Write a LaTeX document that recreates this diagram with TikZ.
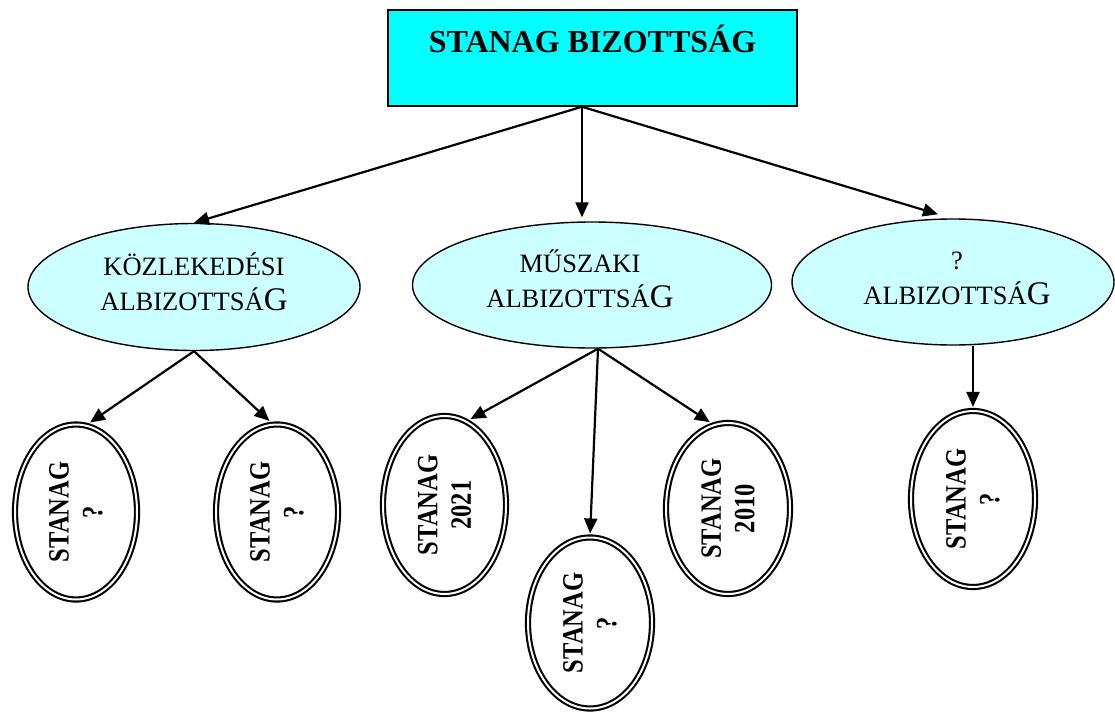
\documentclass[tikz,border=0pt]{standalone}
\usepackage{fontspec}
\setmainfont{Liberation Serif}
\usetikzlibrary{shapes.geometric,arrows.meta,calc}
\definecolor{topcyan}{RGB}{0,255,255}
\definecolor{subcyan}{RGB}{204,255,255}
\begin{document}
\begin{tikzpicture}[x=1pt,y=-1pt,
  topbox/.style={draw=black, line width=1.5pt, fill=topcyan, minimum width=409pt, minimum height=96pt, inner sep=0pt},
  subell/.style={ellipse, draw=black, line width=1.4pt, fill=subcyan, inner sep=0pt},
  stanagell/.style={ellipse, draw=black, double=white, line width=2.1pt, double distance=2pt, fill=white, inner sep=0pt},
  arr/.style={line width=2.2pt, -{Triangle[length=15pt,width=13pt]}},
  sublabel/.style={align=center, font=\fontsize{26.5}{35}\selectfont},
  stlabel/.style={rotate=90, yscale=1.2, transform shape, align=center, font=\fontsize{24.5}{28}\selectfont\bfseries},
]
\useasboundingbox (0,0) rectangle (1115,714);

% top box
\node[topbox, text height=43pt, text depth=53pt, font=\fontsize{32}{38}\selectfont\bfseries] (top) at (592.5,58) {STANAG BIZOTTSÁG};

% sub-committees
\node[subell, minimum width=332pt, minimum height=127pt,
  label={[sublabel, yshift=5.5pt]center:KÖZLEKEDÉSI\\ALBIZOTTSÁ{\fontsize{33}{35}\selectfont G}}] (e1) at (194,287) {};
\node[subell, minimum width=359pt, minimum height=126pt,
  label={[sublabel, xshift=-12pt, yshift=6pt]center:MŰSZAKI\\ALBIZOTTSÁ{\fontsize{33}{35}\selectfont G}}] (e2) at (592,285) {};
\node[subell, minimum width=322pt, minimum height=126pt,
  label={[sublabel, xshift=4pt, yshift=4pt]center:?\\ALBIZOTTSÁ{\fontsize{33}{35}\selectfont G}}] (e3) at (953,282) {};

% STANAG ellipses
\node[stanagell, minimum width=122pt, minimum height=175pt, label={[stlabel]center:STANAG\\?}] (d1) at (76,512) {};
\node[stanagell, minimum width=122pt, minimum height=175pt, label={[stlabel]center:STANAG\\?}] (d2) at (277,512) {};
\node[stanagell, minimum width=123pt, minimum height=178pt, label={[stlabel]center:STANAG\\2021}] (d3) at (444.5,505) {};
\node[stanagell, minimum width=124pt, minimum height=171pt, label={[stlabel]center:STANAG\\?}] (d4) at (590,623) {};
\node[stanagell, minimum width=124pt, minimum height=171pt, label={[stlabel]center:STANAG\\2010}] (d5) at (728,508.5) {};
\node[stanagell, minimum width=124pt, minimum height=176pt, label={[stlabel]center:STANAG\\?}] (d6) at (973,499) {};

% connectors from top box
\coordinate (hub) at ([xshift=-10.5pt]top.south);
\draw[arr] (hub) -- (e1.north);
\draw[arr, shorten >=4pt] (hub) -- (hub |- e2.north);
\draw[arr] (hub) -- ([xshift=-15pt,yshift=4pt]e3.north);

% connectors from sub-committees
\draw[arr, shorten >=4pt] (e1.south) -- (d1.83);
\draw[arr, shorten >=4pt] (e1.south) -- (d2.93);
\coordinate (e2b) at ([xshift=6pt]e2.south);
\draw[arr, shorten >=4pt] (e2b) -- (d3.75);
\draw[arr, shorten >=3pt] (e2b) -- (d4.north);
\draw[arr, shorten >=4pt] (e2b) -- (d5.100);
\draw[arr, shorten >=3pt] (d6.north |- e3.south) -- (d6.north);
\end{tikzpicture}
\end{document}
